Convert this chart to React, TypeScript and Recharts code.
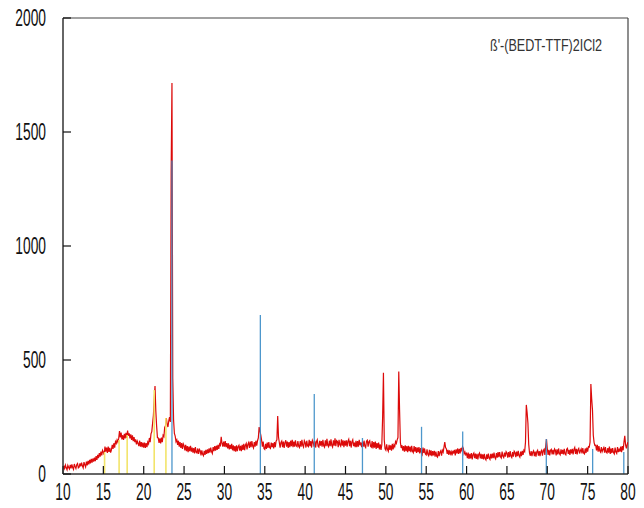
import { ComposedChart, Line, XAxis, YAxis, ReferenceLine } from 'recharts';

// powder scan, 2θ from 10° in 0.1° steps, one block per 10°
const scanStart = 10;
const scanStep = 0.1;

const scan10 = [
  20, 36, 24, 39, 27, 18, 38, 29, 22, 40,
  25, 42, 28, 20, 44, 33, 24, 41, 46, 27,
  30, 47, 33, 50, 36, 27, 52, 40, 31, 54,
  38, 58, 42, 62, 47, 66, 50, 68, 54, 72,
  56, 78, 62, 84, 70, 92, 76, 98, 82, 104,
  96, 84, 120, 98, 116, 92, 120, 97, 115, 94,
  106, 128, 110, 135, 116, 142, 134, 150, 140, 156,
  188, 160, 182, 152, 170, 150, 176, 156, 180, 158,
  190, 168, 178, 156, 174, 150, 170, 144, 162, 140,
  152, 130, 144, 134, 122, 146, 120, 140, 118, 138,
];
const scan20 = [
  116, 138, 114, 136, 118, 140, 132, 158, 140, 176,
  186, 222, 256, 324, 386, 276, 210, 160, 158, 136,
  156, 134, 160, 140, 170, 164, 204, 212, 245, 220,
  206, 232, 250, 228, 1325, 1715, 420, 237, 178, 166,
  142, 150, 128, 146, 120, 140, 114, 136, 110, 132,
  124, 104, 128, 100, 122, 96, 120, 100, 124, 98,
  116, 94, 114, 90, 118, 96, 92, 112, 88, 108,
  102, 82, 104, 86, 80, 102, 84, 106, 88, 108,
  92, 112, 94, 116, 98, 90, 118, 100, 122, 102,
  124, 106, 128, 110, 132, 126, 163, 134, 120, 142,
];
const scan30 = [
  120, 144, 118, 136, 112, 134, 108, 128, 110, 132,
  104, 126, 100, 122, 98, 126, 100, 120, 126, 102,
  124, 100, 128, 106, 132, 104, 126, 134, 108, 130,
  138, 114, 142, 118, 144, 122, 114, 140, 120, 146,
  124, 146, 158, 206, 188, 172, 150, 120, 142, 112,
  108, 132, 110, 138, 114, 140, 116, 112, 138, 118,
  136, 112, 140, 118, 144, 150, 254, 162, 138, 116,
  138, 144, 118, 142, 114, 138, 148, 120, 142, 114,
  140, 118, 146, 122, 150, 118, 142, 120, 148, 124,
  120, 144, 122, 116, 144, 120, 150, 126, 118, 146,
];
const scan40 = [
  138, 116, 146, 124, 120, 150, 122, 144, 116, 148,
  140, 120, 146, 116, 142, 150, 122, 118, 146, 124,
  144, 120, 150, 124, 118, 148, 122, 154, 126, 120,
  146, 122, 152, 126, 118, 148, 124, 156, 122, 146,
  142, 118, 150, 128, 122, 152, 124, 148, 118, 146,
  124, 148, 120, 144, 152, 122, 146, 116, 142, 150,
  122, 138, 118, 146, 118, 144, 120, 150, 126, 138,
  118, 142, 120, 146, 122, 116, 144, 148, 120, 142,
  146, 122, 118, 144, 112, 140, 116, 142, 110, 136,
  114, 138, 108, 130, 106, 128, 250, 444, 150, 110,
];
const scan50 = [
  104, 130, 108, 100, 128, 106, 126, 102, 132, 108,
  128, 120, 142, 134, 150, 160, 449, 280, 138, 114,
  126, 102, 122, 98, 126, 100, 122, 96, 124, 100,
  120, 96, 124, 100, 94, 122, 98, 118, 92, 116,
  96, 118, 90, 114, 94, 86, 116, 92, 112, 88,
  84, 108, 86, 80, 106, 82, 104, 78, 100, 82,
  102, 76, 98, 78, 74, 100, 78, 96, 102, 80,
  104, 96, 118, 140, 116, 110, 88, 106, 84, 104,
  88, 98, 82, 102, 90, 106, 82, 108, 90, 112,
  88, 110, 90, 114, 104, 120, 112, 88, 96, 84,
];
const scan60 = [
  90, 70, 94, 66, 88, 68, 92, 64, 86, 92,
  70, 90, 66, 88, 64, 86, 92, 68, 88, 66,
  86, 64, 88, 68, 62, 86, 66, 90, 70, 64,
  88, 68, 90, 70, 94, 72, 66, 92, 72, 96,
  74, 96, 76, 70, 98, 78, 72, 94, 76, 98,
  92, 72, 96, 74, 100, 78, 72, 96, 76, 100,
  94, 74, 98, 78, 102, 80, 74, 98, 78, 102,
  84, 104, 98, 140, 303, 270, 224, 130, 92, 80,
  100, 78, 96, 102, 78, 98, 76, 98, 104, 80,
  100, 78, 98, 104, 80, 102, 108, 84, 120, 153,
];
const scan70 = [
  112, 84, 106, 82, 104, 108, 86, 106, 86, 110,
  104, 82, 108, 86, 112, 90, 84, 108, 88, 106,
  86, 110, 88, 84, 108, 112, 88, 106, 84, 108,
  90, 110, 86, 108, 116, 88, 110, 86, 106, 112,
  90, 102, 110, 90, 114, 92, 88, 112, 92, 116,
  98, 120, 118, 140, 395, 330, 281, 170, 138, 125,
  126, 104, 128, 98, 122, 102, 96, 118, 98, 108,
  116, 94, 118, 96, 92, 114, 94, 120, 88, 112,
  92, 114, 94, 88, 116, 96, 90, 118, 96, 108,
  98, 120, 96, 122, 104, 140, 167, 128, 112, 130,
];
const scan80 = [140];

// reference patterns (stick positions and heights)
const refBluePos = [23.5, 34.45, 41.13, 47.1, 54.42, 59.52, 69.88, 75.62, 79.48];
const refBlueInt = [1375, 697, 351, 158, 207, 186, 153, 110, 96];
const refYellowPos = [15.15, 16.95, 17.95, 21.3, 22.75];
const refYellowInt = [96, 149, 171, 368, 246];

const xTicks = [10, 15, 20, 25, 30, 35, 40, 45, 50, 55, 60, 65, 70, 75, 80];
const yTicks = [0, 500, 1000, 1500, 2000];

const sampleName = "ß'-(BEDT-TTF)2ICl2";

const intensity = [...scan10, ...scan20, ...scan30, ...scan40, ...scan50, ...scan60, ...scan70, ...scan80];
const chartData = intensity.map((v, i) => ({
  twoTheta: Math.round((scanStart + i * scanStep) * 10) / 10,
  intensity: v,
}));

const FONT = '"Liberation Sans", Arial, sans-serif';

// tick labels are drawn narrow (horizontally squeezed)
const XTick = ({ x, y, payload }: any) => (
  <g transform={`translate(${x},${y}) scale(0.6,1)`}>
    <text textAnchor="middle" dy="0.71em" fontSize={23} fill="#111" fontFamily={FONT}>
      {payload.value}
    </text>
  </g>
);

const YTick = ({ x, y, payload }: any) => (
  <g transform={`translate(${x},${y}) scale(0.6,1)`}>
    <text textAnchor="end" dy="0.36em" fontSize={23} fill="#111" fontFamily={FONT}>
      {payload.value}
    </text>
  </g>
);

export default function App() {
  return (
    <div style={{ position: 'relative', width: 636, height: 508, marginTop: -8 }}>
      <ComposedChart
        width={636}
        height={508}
        data={chartData}
        margin={{ top: 18, right: 16, bottom: 0, left: 0 }}
      >
        <XAxis
          dataKey="twoTheta"
          type="number"
          domain={[10, 80]}
          ticks={xTicks}
          interval={0}
          height={34}
          axisLine={{ stroke: '#333', strokeWidth: 1.5 }}
          tickLine={{ stroke: '#111', strokeWidth: 1.2 }}
          tickSize={-8}
          tickMargin={18}
          tick={<XTick />}
          allowDataOverflow
        />
        <YAxis
          type="number"
          domain={[0, 2000]}
          ticks={yTicks}
          interval={0}
          width={55}
          axisLine={{ stroke: '#333', strokeWidth: 1.5 }}
          tickLine={{ stroke: '#111', strokeWidth: 1.2 }}
          tickSize={-8}
          tickMargin={25}
          tick={<YTick />}
          allowDataOverflow
        />
        {/* top and right frame */}
        <ReferenceLine y={2000} stroke="#444" strokeWidth={1.2} />
        <ReferenceLine x={80} stroke="#444" strokeWidth={1.2} />
        <Line
          type="linear"
          dataKey="intensity"
          stroke="#dc0a0a"
          strokeWidth={1.2}
          dot={false}
          activeDot={false}
          isAnimationActive={false}
        />
        {refYellowPos.map((p, i) => (
          <ReferenceLine
            key={`y${i}`}
            segment={[{ x: p, y: 0 }, { x: p, y: refYellowInt[i] }]}
            stroke="#f2e46a"
            strokeWidth={1.6}
          />
        ))}
        {refBluePos.map((p, i) => (
          <ReferenceLine
            key={`b${i}`}
            segment={[{ x: p, y: 0 }, { x: p, y: refBlueInt[i] }]}
            stroke="#3a8cc6"
            strokeWidth={1.3}
            strokeOpacity={0.9}
          />
        ))}
      </ComposedChart>
      <div
        style={{
          position: 'absolute',
          left: 482,
          top: 37,
          fontFamily: FONT,
          fontSize: 17,
          lineHeight: '17px',
          color: '#333',
          whiteSpace: 'nowrap',
          transform: 'scaleX(0.74)',
          transformOrigin: 'left top',
        }}
      >
        {sampleName}
      </div>
    </div>
  );
}
